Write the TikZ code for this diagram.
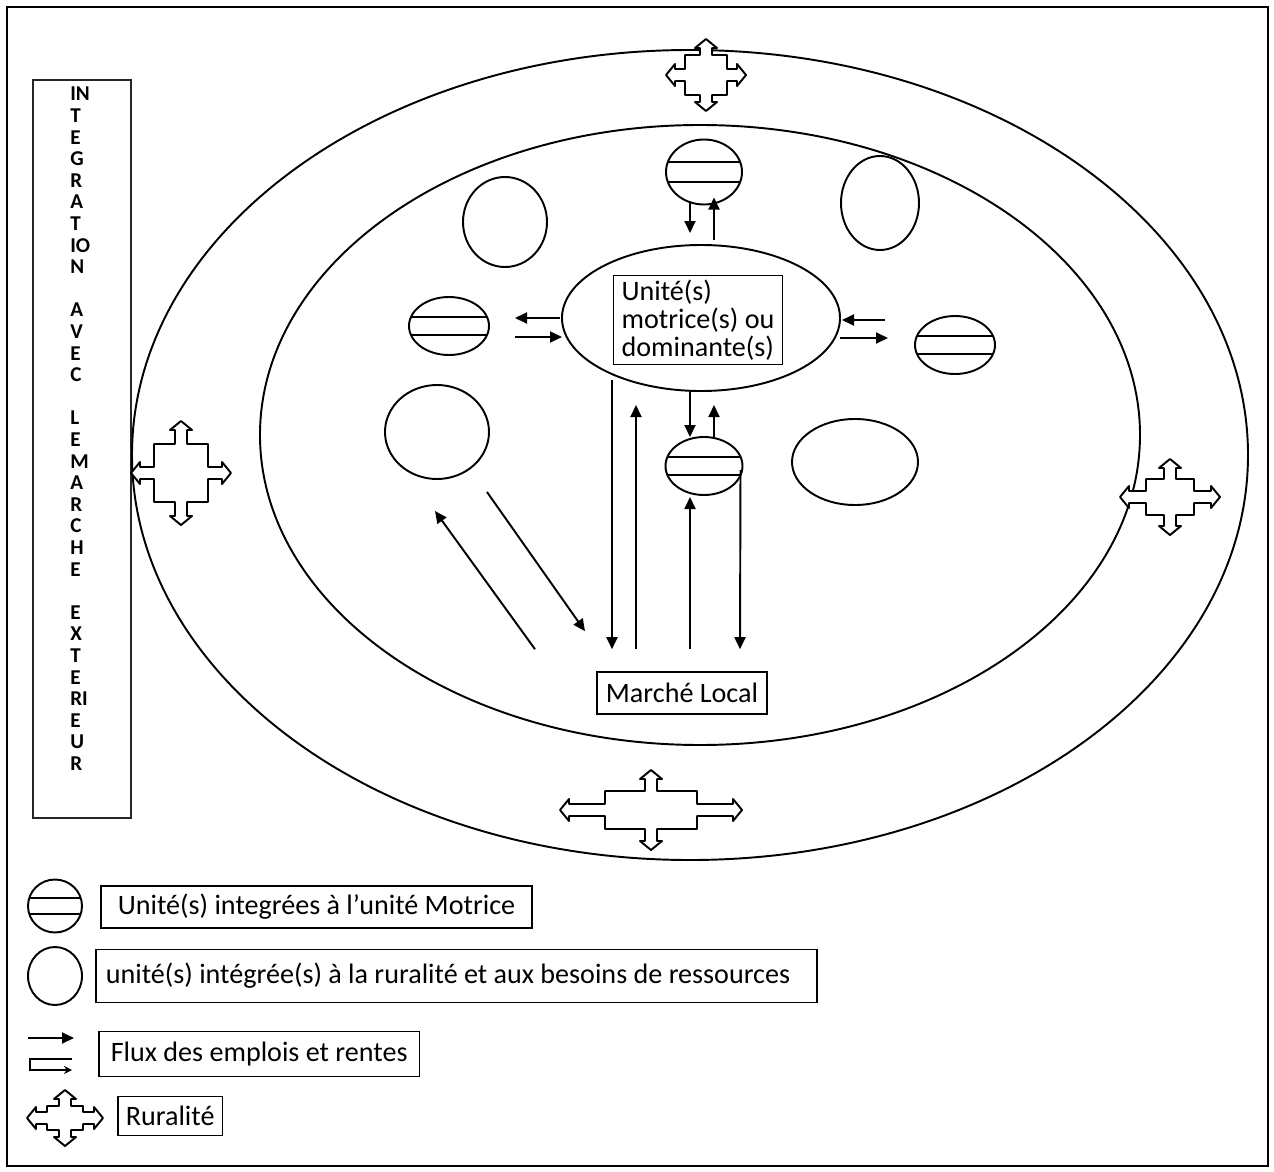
\documentclass[tikz,border=0pt]{standalone}
\usepackage{fontspec}
\setmainfont{Carlito}
\usetikzlibrary{arrows.meta,positioning,shapes.geometric,calc}
\tikzset{
  >={Triangle[length=2.4mm,width=2.2mm]},
  ring/.style={ellipse,draw,line width=1.1pt,inner sep=0pt,outer sep=0pt},
  hub/.style={ring,minimum width=55.6mm,minimum height=29.2mm},
  integ/.style args={#1/#2}{ring,fill=white,minimum width=#1,minimum height=#2,
    path picture={\draw[line width=1.1pt]
      ($(path picture bounding box.south west)!0.35!(path picture bounding box.north west)$) rectangle
      ($(path picture bounding box.south east)!0.65!(path picture bounding box.north east)$);}},
  rurunit/.style args={#1/#2}{ring,minimum width=#1,minimum height=#2},
  tag/.style={draw,line width=0.9pt,font=\fontsize{16}{18}\selectfont,inner ysep=0pt,anchor=west},
  flow/.style={->,line width=1.1pt},
  letter/.style={font=\fontsize{12}{12}\selectfont\bfseries,anchor=west,inner sep=0pt},
  % rural cross: body half width / body half height / side arm / top arm
  pics/ruralite/.style args={#1/#2/#3/#4}{code={
    \draw[line width=1.1pt,line join=round,fill=white]
      (-#1,-#2) -- (-6,-#2) -- (-6,-#2-#4) -- (-11,-#2-#4) -- (0,-#2-#4-9) -- (11,-#2-#4) -- (6,-#2-#4) -- (6,-#2)
      -- (#1,-#2) -- (#1,-6) -- (#1+#3,-6) -- (#1+#3,-11) -- (#1+#3+9,0) -- (#1+#3,11) -- (#1+#3,6) -- (#1,6)
      -- (#1,#2) -- (6,#2) -- (6,#2+#4) -- (11,#2+#4) -- (0,#2+#4+9) -- (-11,#2+#4) -- (-6,#2+#4) -- (-6,#2)
      -- (-#1,#2) -- (-#1,6) -- (-#1-#3,6) -- (-#1-#3,11) -- (-#1-#3-9,0) -- (-#1-#3,-11) -- (-#1-#3,-6) -- (-#1,-6) -- cycle;
  }},
}
\begin{document}
\begin{tikzpicture}[x=0.2mm,y=-0.2mm]
  \useasboundingbox (0,0) rectangle (1274,1172);
  \draw[line width=1pt] (7,7) rectangle (1268,1166);
  % side panel
  \draw[line width=1.4pt,draw=black!85] (33,80) rectangle (131,818);
  \foreach \l [count=\i from 0] in {IN,T,E,G,R,A,T,IO,N,,A,V,E,C,,L,E,M,A,R,C,H,E,,E,X,T,E,RI,E,U,R}
    \node[letter] (v\i) at (70,94+21.6*\i) {\l};
  % rings
  \node[ring,minimum width=223.2mm,minimum height=162mm] (outer) at (690,455) {};
  \node[ring,minimum width=176mm,minimum height=124mm] (inner) at (700,435) {};
  \pic (rtop) at (706,75) {ruralite=21/20/10/7};
  \pic (rleft) at (181,473) {ruralite=27/29/14/14};
  \pic (rright) at (1170,497) {ruralite=24/18/17/11};
  \pic (rbot) at (651,810) {ruralite=46/19/36/12};
  % centre
  \node[hub] (motor) at (701,318) {};
  \node[tag,anchor=center,align=left,font=\fontsize{16}{16}\selectfont,inner xsep=1.6mm,inner ysep=0.8mm] (motortxt) at (698,320) {Unité(s)\\motrice(s) ou\\dominante(s)};
  \node[integ=15.2mm/13mm] (utop) at (704,172) {};
  \node[integ=16mm/11.6mm] (uleft) at (449,326) {};
  \node[integ=16mm/11.6mm] (uright) at (955,345) {};
  \node[integ=15.4mm/11.6mm] (ubot) at (704,466) {};
  \node[rurunit=16.8mm/18mm] (r1) at (505,222) {};
  \node[rurunit=15.6mm/18.8mm] (r2) at (880,203) {};
  \node[rurunit=20.8mm/18.8mm] (r3) at (437,432) {};
  \node[rurunit=25.2mm/17.2mm] (r4) at (855,462) {};
  \node[tag,anchor=center,minimum height=8.4mm,inner xsep=1.8mm] (market) at (682,693) {Marché Local};
  % flows
  \draw[flow] ($(utop.south)+(-14,-4)$) -- ($(motor.north)+(-11,-12)$);
  \draw[flow] ($(motor.north)+(13,-5)$) -- ($(utop.south)+(10,-7)$);
  \draw[flow] ($(motor.west)+(-2,0)$) -- ($(uleft.east)+(26,-8)$);
  \draw[flow] ($(uleft.east)+(26,11)$) -- ($(motor.west)+(0,19)$);
  \draw[flow] ($(uright.west)+(-30,-25)$) -- ($(motor.east)+(2,2)$);
  \draw[flow] ($(motor.east)+(0,20)$) -- ($(uright.west)+(-27,-7)$);
  \draw[flow] ($(motor.south)+(-11,0)$) -- ($(ubot.north)+(-14,0)$);
  \draw[flow] ($(ubot.north)+(10,2)$) -- ($(motor.south)+(13,14)$);
  \draw[flow] ($(motor.south)+(-89,-11)$) -- ($(market.north)+(-70,-22)$);
  \draw[flow] ($(market.north)+(-46,-22)$) -- ($(motor.south)+(-65,14)$);
  \draw[flow] ($(market.north)+(8,-22)$) -- ($(ubot.south)+(-14,2)$);
  \draw[flow] ($(ubot.east)+(-2,4)$) -- ($(market.north)+(58,-22)$);
  \draw[flow] ($(market.north)+(-147,-22)$) -- ($(r3.south)+(-2,32)$);
  \draw[flow] ($(r3.south)+(50,13)$) -- ($(market.north)+(-97,-40)$);
  % legend
  \node[integ=10.8mm/10.6mm] (lg1) at (55,906) {};
  \node[tag,minimum height=8.4mm,inner xsep=3.4mm] (lt1) at (100,907) {Unité(s) integrées à l'unité Motrice};
  \node[rurunit=10.8mm/11.6mm] (lg2) at (55,976) {};
  \node[tag,minimum height=10.6mm,inner xsep=2mm] (lt2) at (95,976) {\makebox[140.2mm][l]{unité(s) intégrée(s) à la ruralité et aux besoins de ressources}};
  \coordinate (f1) at (28,1038);
  \coordinate (f2) at (74,1038);
  \draw[flow] (f1) -- (f2);
  \coordinate (g1) at (72,1059);
  \coordinate (g2) at (72,1070);
  \draw[line width=1pt,-{Stealth[length=1.6mm,width=1.6mm]}] (g1) -- (30,1059) -- (30,1070) -- (g2);
  \node[tag,minimum height=9mm,inner xsep=2.4mm] (lt3) at (98,1054) {Flux des emplois et rentes};
  \pic (lg4) at (65,1118) {ruralite=18/12/11/7};
  \node[tag,minimum height=7.8mm,inner xsep=1.6mm] (lt4) at (117,1116) {Ruralité};
\end{tikzpicture}
\end{document}
